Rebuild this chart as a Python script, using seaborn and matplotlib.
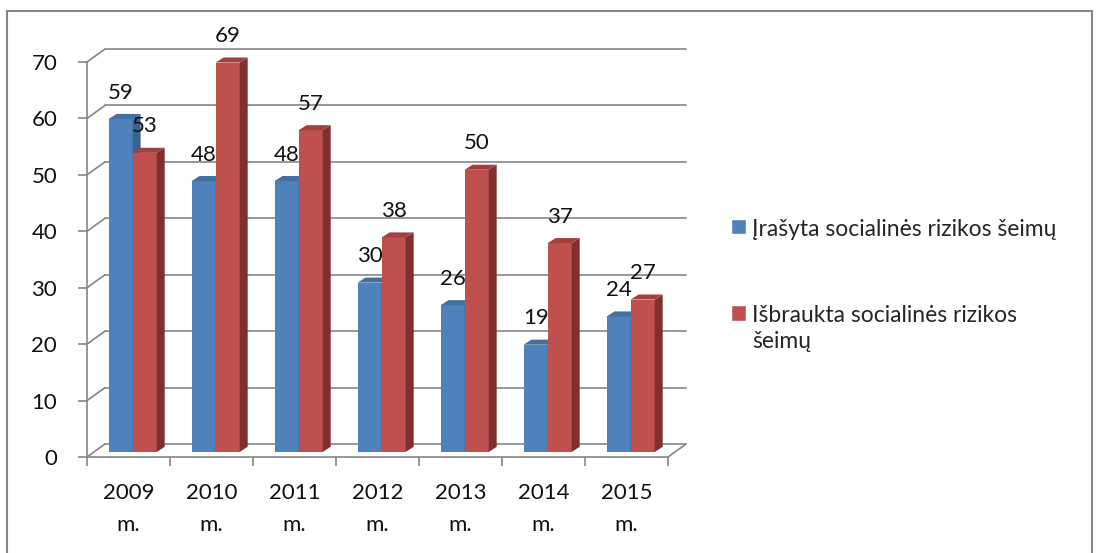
import numpy as np
import pandas as pd
import seaborn as sns
from matplotlib import pyplot as plt
from matplotlib.patches import Polygon, Rectangle

# duomenys
metai = ["2009\nm.", "2010\nm.", "2011\nm.", "2012\nm.", "2013\nm.", "2014\nm.", "2015\nm."]
irasyta = [59, 48, 48, 30, 26, 19, 24]
isbraukta = [53, 69, 57, 38, 50, 37, 27]
serijos = ["Įrašyta socialinės rizikos šeimų", "Išbraukta socialinės rizikos\nšeimų"]

df = pd.DataFrame({
    "metai": metai * 2,
    "šeimos": irasyta + isbraukta,
    "serija": [serijos[0]] * len(metai) + [serijos[1]] * len(metai),
})

sns.set_style("white")
plt.rcParams["font.family"] = ["Lato", "DejaVu Sans"]

pilka = "#868686"
tekstas = "#111111"
spalvos = ["#4F81BD", "#C0504D"]
sonai = ["#3A6190", "#7E302E"]
virsus = ["#43709F", "#A2403D"]

fig = plt.figure(figsize=(11, 5.53), dpi=100)
ax = fig.add_axes([87 / 1100, 1 - 457 / 553, 581 / 1100, 395 / 553])

sns.barplot(data=df, x="metai", y="šeimos", hue="serija", palette=spalvos,
            width=0.58, saturation=1, ax=ax)
handles, labels = ax.get_legend_handles_labels()
ax.legend_.remove()

ax.set_ylim(0, 70)
ax.set_xlim(-0.5, 6.5)
ax.set_xlabel("")
ax.set_ylabel("")

# 3D efektas: perspektyvos gylis
dx, dy = 0.096, 0.9      # stulpelio šono gylis
pos_x, pos_y = 0.05, 0.9  # stulpeliai pastumti į grindų vidurį
gx, gy = 18 / 581, 2.3    # tinklelio gylis

for i, cont in enumerate(ax.containers):
    z = 2 + i
    for bar, v in zip(cont, cont.datavalues):
        bar.set_x(bar.get_x() + pos_x)
        bar.set_y(pos_y)
        bar.set_edgecolor("none")
        bar.set_zorder(z)
        bar.set_clip_on(False)
        x0 = bar.get_x()
        x1 = x0 + bar.get_width()
        y0 = pos_y
        y1 = pos_y + bar.get_height()
        ax.add_patch(Polygon([(x1, y0), (x1 + dx, y0 + dy), (x1 + dx, y1 + dy), (x1, y1)],
                             closed=True, facecolor=sonai[i], edgecolor="none", zorder=z,
                             clip_on=False))
        ax.add_patch(Polygon([(x0, y1), (x0 + dx, y1 + dy), (x1 + dx, y1 + dy), (x1, y1)],
                             closed=True, facecolor=virsus[i], edgecolor="none", zorder=z,
                             clip_on=False))
        ax.annotate(f"{v:.0f}", ((x0 + x1) / 2, y1), xytext=(0, 19),
                    textcoords="offset points", ha="center", va="center",
                    fontsize=16, color=tekstas, zorder=10)

# tinklelis ant galinės sienos
yt = np.arange(0, 80, 10)
tr = ax.get_yaxis_transform()
for v in yt:
    ax.plot([0, gx], [v, v + gy], transform=tr, color=pilka, lw=1.2, clip_on=False, zorder=0.5)
    ax.plot([gx, 1 + gx], [v + gy, v + gy], transform=tr, color=pilka, lw=1.2, clip_on=False, zorder=0.5)
ax.plot([1, 1 + gx], [0, gy], transform=tr, color=pilka, lw=1.2, clip_on=False, zorder=0.5)

sns.despine(ax=ax)
for s in ["left", "bottom"]:
    ax.spines[s].set_color(pilka)
    ax.spines[s].set_linewidth(1.2)

ax.set_yticks(yt)
ax.set_xticks(np.arange(-0.5, 7, 1), minor=True)
ax.tick_params(axis="y", left=True, length=6.5, width=1.2, color=pilka, pad=15,
               labelsize=16, labelcolor=tekstas)
ax.tick_params(axis="x", which="major", bottom=True, length=0, pad=19,
               labelsize=16, labelcolor=tekstas)
ax.tick_params(axis="x", which="minor", bottom=True, length=6.5, width=1.2, color=pilka)
for t in ax.get_xticklabels():
    t.set_linespacing(1.72)

leg = fig.legend(handles, labels, loc="upper left", bbox_to_anchor=(731 / 1100, 1 - 219 / 553),
                 frameon=False, fontsize=16.5, handlelength=0.65, handleheight=0.65,
                 handletextpad=0.28, labelspacing=2.85, borderpad=0, borderaxespad=0)
for t in leg.get_texts():
    t.set_linespacing(1.3)
# žymeklis prie pirmos eilutės
for col in leg._legend_handle_box.get_children():
    for item in col.get_children():
        item.align = "top"

# rėmelis aplink diagramą
fig.add_artist(Rectangle((7 / 1100, -0.1), (1092 - 7) / 1100, 1.1 - 11 / 553,
                         transform=fig.transFigure, fill=False, edgecolor=pilka, lw=1.5))

fig.savefig("out.png", dpi=100)
